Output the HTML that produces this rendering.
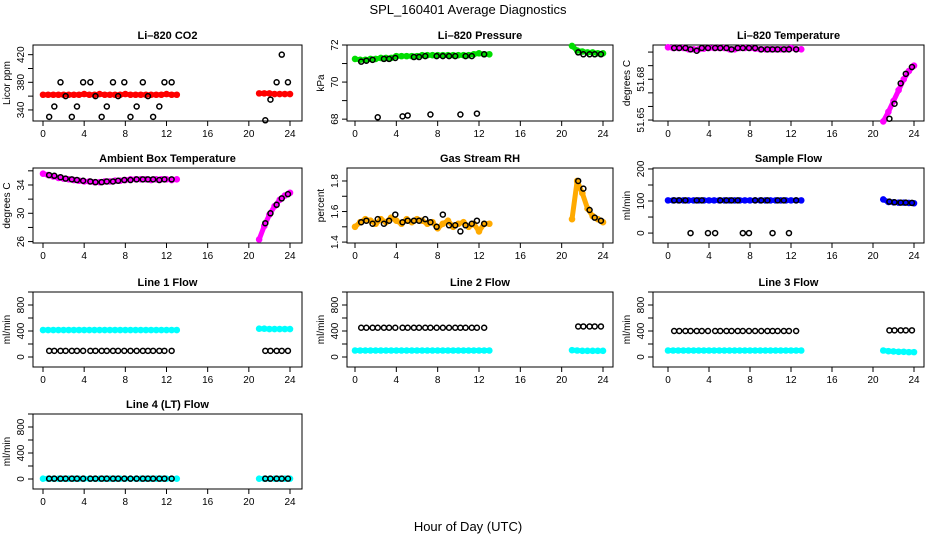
<!DOCTYPE html>
<html><head><meta charset="utf-8"><style>
body{margin:0;background:#fff;}
svg{display:block;font-family:"Liberation Sans",sans-serif;}
</style></head><body>
<svg id="c" width="936" height="540" viewBox="0 0 936 540">
<text x="468" y="14" text-anchor="middle" font-size="13">SPL_160401  Average Diagnostics</text>
<text x="468" y="531" text-anchor="middle" font-size="13">Hour of Day (UTC)</text>
</svg>
<script>
const xTicks=[0,4,8,12,16,20,24];
const denseHrs=[0,0.5,1,1.5,2,2.5,3,3.5,4,4.5,5,5.5,6,6.5,7,7.5,8,8.5,9,9.5,10,10.5,11,11.5,12,12.5,13,21,21.5,22,22.5,23,23.5,24];
const ptHrs=[0.6,1.1,1.7,2.2,2.8,3.3,3.9,4.6,5.1,5.7,6.2,6.8,7.3,7.9,8.5,9.1,9.7,10.2,10.7,11.3,11.8,12.5,21.6,22.1,22.7,23.2,23.8];
const co2Dense=[362,362,362,362,362,362,362,362,363,362,362,363,362,362,362,362,363,362,362,362,362,362,362,362,363,362,362,364,364,364,363,363,363,363];
const co2Pts=[330,345,380,360,330,345,380,380,360,330,345,380,360,380,330,345,380,360,330,345,380,380,325,355,380,420,380];
const presDense=[71.25,71.2,71.2,71.25,71.25,71.3,71.3,71.3,71.4,71.4,71.4,71.4,71.4,71.45,71.45,71.45,71.45,71.45,71.45,71.45,71.45,71.45,71.45,71.5,71.55,71.5,71.5,71.95,71.7,71.65,71.6,71.6,71.55,71.55];
const presPts=[71.1,71.15,71.2,68.1,71.25,71.25,71.3,68.15,68.2,71.35,71.35,71.4,68.25,71.4,71.4,71.4,71.4,68.25,71.4,71.4,68.3,71.5,71.6,71.5,71.5,71.5,71.5];
const tempDense=[51.7035,51.703,51.703,51.703,51.702,51.702,51.702,51.7025,51.703,51.703,51.703,51.703,51.702,51.702,51.703,51.703,51.703,51.7025,51.702,51.702,51.702,51.702,51.702,51.702,51.703,51.702,51.702,51.649,51.656,51.664,51.672,51.68,51.686,51.69];
const tempPts=[51.703,51.703,51.703,51.702,51.701,51.703,51.703,51.703,51.703,51.703,51.702,51.703,51.703,51.703,51.703,51.702,51.702,51.702,51.702,51.702,51.702,51.702,51.651,51.662,51.677,51.684,51.689];
const ambDense=[35.6,35.4,35.2,35.0,34.9,34.8,34.7,34.6,34.5,34.5,34.4,34.4,34.5,34.5,34.6,34.6,34.7,34.8,34.8,34.8,34.8,34.7,34.8,34.8,34.8,34.7,34.8,26.3,28.2,29.8,31.0,31.9,32.5,32.9];
const ambPts=[35.4,35.3,35.1,34.9,34.8,34.7,34.6,34.5,34.4,34.4,34.5,34.5,34.6,34.7,34.7,34.8,34.8,34.8,34.8,34.7,34.8,34.8,28.6,30.0,31.2,32.1,32.7];
const rhDense=[1.5,1.53,1.55,1.54,1.52,1.55,1.53,1.56,1.54,1.52,1.55,1.53,1.55,1.54,1.52,1.53,1.49,1.52,1.54,1.5,1.52,1.53,1.5,1.52,1.47,1.52,1.52,1.55,1.8,1.72,1.62,1.57,1.55,1.53];
const rhPts=[1.53,1.54,1.52,1.55,1.52,1.54,1.58,1.53,1.54,1.54,1.54,1.55,1.53,1.5,1.58,1.51,1.51,1.47,1.51,1.52,1.54,1.52,1.8,1.75,1.61,1.56,1.54];
const sfDense=[102,102,102,102,102,102,102,102,102,102,102,102,102,102,102,102,102,102,102,102,102,102,102,102,102,102,102,105,97,96,95,95,94,93];
const sfPts=[102,102,102,0,102,102,0,0,102,102,102,102,0,0,102,102,102,0,102,102,0,102,98,96,95,95,94];
const l1Dense=[415,415,415,415,415,415,415,415,415,415,415,415,415,415,415,415,415,415,415,415,415,415,415,415,415,415,415,435,435,430,430,430,430,430];
const l1Pts=[95,95,95,95,95,95,95,95,95,95,95,95,95,95,95,95,95,95,95,95,95,95,95,95,95,95,95];
const l2Dense=[100,100,100,100,100,100,100,100,100,100,100,100,100,100,100,100,100,100,100,100,100,100,100,100,100,100,100,105,100,95,95,95,95,95];
const l2Pts=[450,450,450,450,450,450,450,450,450,450,450,450,450,450,450,450,450,450,450,450,450,450,470,470,470,470,470];
const l3Dense=[100,100,100,100,100,100,100,100,100,100,100,100,100,100,100,100,100,100,100,100,100,100,100,100,100,100,100,100,90,85,80,80,75,75];
const l3Pts=[400,400,400,400,400,400,400,400,400,400,400,400,400,400,400,400,400,400,400,400,400,400,410,410,410,410,410];
const l4Dense=[5,5,5,5,5,5,5,5,5,5,5,5,5,5,5,5,5,5,5,5,5,5,5,5,5,5,5,5,5,5,5,5,5,5];
const l4Pts=[5,5,5,5,5,5,5,5,5,5,5,5,5,5,5,5,5,5,5,5,5,5,5,5,5,5,5];

const svg=document.getElementById('c');
const NS='http://www.w3.org/2000/svg';
function mk(tag,attrs,parent){const e=document.createElementNS(NS,tag);for(const k in attrs)e.setAttribute(k,attrs[k]);(parent||svg).appendChild(e);return e;}
const cols=[{l:33,r:302,x0:43,x24:290},{l:347,r:613,x0:355,x24:603},{l:653,r:924,x0:668,x24:914}];
const rows=[{t:45,b:121},{t:168,b:243},{t:292,b:367},{t:414,b:489}];
const panels=[
 {name:'li820-co2',title:'Li\u2013820 CO2',ylab:'Licor ppm',c:0,r:0,ymin:324,ymax:434,ticks:[340,360,380,400,420],labels:[340,'',380,'',420],dense:co2Dense,pts:co2Pts,col:'#ff0000'},
 {name:'li820-pressure',title:'Li\u2013820 Pressure',ylab:'kPa',c:1,r:0,ymin:67.9,ymax:72,ticks:[68,69,70,71,72],labels:[68,'',70,'',72],dense:presDense,pts:presPts,col:'#00dd00'},
 {name:'li820-temperature',title:'Li\u2013820 Temperature',ylab:'degrees C',c:2,r:0,ymin:51.6493,ymax:51.7052,ticks:[51.65,51.66,51.67,51.68,51.69,51.70],labels:['51.65','','','51.68','',''],dense:tempDense,pts:tempPts,col:'#ff00ff'},
 {name:'ambient-box-temperature',title:'Ambient Box Temperature',ylab:'degrees C',c:0,r:1,ymin:25.8,ymax:36.4,ticks:[26,28,30,32,34,36],labels:[26,'',30,'',34,''],dense:ambDense,pts:ambPts,col:'#ff00ff'},
 {name:'gas-stream-rh',title:'Gas Stream RH',ylab:'percent',c:1,r:1,ymin:1.394,ymax:1.885,ticks:[1.4,1.5,1.6,1.7,1.8],labels:['1.4','','1.6','','1.8'],dense:rhDense,pts:rhPts,col:'#ffaa00'},
 {name:'sample-flow',title:'Sample Flow',ylab:'ml/min',c:2,r:1,ymin:-31,ymax:203,ticks:[0,50,100,150,200],labels:[0,'',100,'',200],dense:sfDense,pts:sfPts,col:'#0000ff'},
 {name:'line1-flow',title:'Line 1 Flow',ylab:'ml/min',c:0,r:2,ymin:-154,ymax:1000,ticks:[0,200,400,600,800,1000],labels:[0,'',400,'',800,''],dense:l1Dense,pts:l1Pts,col:'#00ffff'},
 {name:'line2-flow',title:'Line 2 Flow',ylab:'ml/min',c:1,r:2,ymin:-154,ymax:1000,ticks:[0,200,400,600,800,1000],labels:[0,'',400,'',800,''],dense:l2Dense,pts:l2Pts,col:'#00ffff'},
 {name:'line3-flow',title:'Line 3 Flow',ylab:'ml/min',c:2,r:2,ymin:-154,ymax:1000,ticks:[0,200,400,600,800,1000],labels:[0,'',400,'',800,''],dense:l3Dense,pts:l3Pts,col:'#00ffff'},
 {name:'line4-flow',title:'Line 4 (LT) Flow',ylab:'ml/min',c:0,r:3,ymin:-154,ymax:1000,ticks:[0,200,400,600,800,1000],labels:[0,'',400,'',800,''],dense:l4Dense,pts:l4Pts,col:'#00ffff'}
];
panels.forEach(p=>{
 const C=cols[p.c],R=rows[p.r];
 const g=mk('g',{});
 
 
 const xs=h=>C.x0+(C.x24-C.x0)*h/24;
 const ys=v=>R.b-(R.b-R.t)*(v-p.ymin)/(p.ymax-p.ymin);
 const t=mk('text',{x:(C.l+C.r)/2,y:R.t-6,'text-anchor':'middle','font-size':11,'font-weight':'bold'},g);t.textContent=p.title;
 
 
 const box=mk('rect',{x:C.l,y:R.t,width:C.r-C.l,height:R.b-R.t,fill:'none',stroke:'#000','stroke-width':1},g);
 
 
 xTicks.forEach(h=>{const x=xs(h);mk('line',{x1:x,x2:x,y1:R.b,y2:R.b+5,stroke:'#000'},g);
  const tl=mk('text',{x:x,y:R.b+16,'text-anchor':'middle','font-size':10},g);tl.textContent=h;
  
  });
 p.ticks.forEach((v,i)=>{const y=ys(v);mk('line',{x1:C.l,x2:C.l-5,y1:y,y2:y,stroke:'#000'},g);
  const lab=p.labels[i];if(lab!==''){const tl=mk('text',{x:C.l-9,y:y,'text-anchor':'middle','font-size':10,transform:`rotate(-90 ${C.l-9} ${y})`},g);tl.textContent=lab;
  
  }});
 const yl=mk('text',{x:C.l-23,y:(R.t+R.b)/2,'text-anchor':'middle','font-size':10,transform:`rotate(-90 ${C.l-23} ${(R.t+R.b)/2})`},g);yl.textContent=p.ylab;
 
 
 const segs=[[],[]];
 denseHrs.forEach((h,i)=>{(h<17?segs[0]:segs[1]).push([xs(h),ys(p.dense[i])]);});
 segs.forEach(s=>{const pl=mk('polyline',{points:s.map(q=>q.join(',')).join(' '),fill:'none',stroke:p.col,'stroke-width':5,'stroke-linecap':'round','stroke-linejoin':'round'},g);
  
  });
 denseHrs.forEach((h,i)=>{const c=mk('circle',{cx:xs(h),cy:ys(p.dense[i]),r:2.5,fill:'none',stroke:p.col,'stroke-width':1.6},g);
  
  });
 ptHrs.forEach((h,i)=>{const c=mk('circle',{cx:xs(h),cy:ys(p.pts[i]),r:2.5,fill:'none',stroke:'#000','stroke-width':1.5},g);
  
  });
});
</script>
</body></html>
